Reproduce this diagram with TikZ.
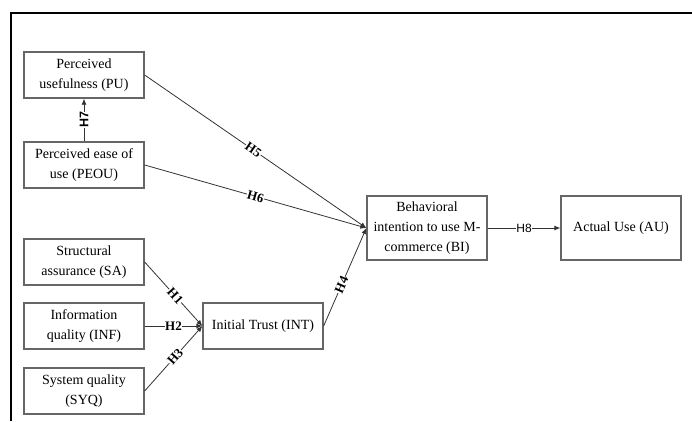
\documentclass[tikz,border=0pt]{standalone}
\usepackage{fontspec}
\setmainfont{Liberation Serif}
\newfontfamily\labsans{Liberation Sans}
\usetikzlibrary{arrows.meta}
\definecolor{boxc}{HTML}{666666}
\definecolor{linec}{HTML}{333333}
\begin{document}
\begin{tikzpicture}[x=1pt,y=-1pt,
  box/.style={draw=boxc,line width=1.3pt,minimum width=120pt,minimum height=46pt,
    align=center,inner sep=1pt,font=\fontsize{14}{20}\selectfont},
  arr/.style={draw=linec,line width=0.8pt,-{Latex[length=6pt,width=5pt]}},
  lab/.style={fill=white,inner sep=0.5pt,font=\fontsize{13}{13}\selectfont\bfseries,sloped}]
\useasboundingbox (0,0) rectangle (692,421);
\draw[line width=2.5pt] (11,421) -- (11,13) -- (692,13);
\node[box] (pu) at (84,75) {Perceived\\usefulness (PU)};
\node[box] (peou) at (84,165) {Perceived ease of\\use (PEOU)};
\node[box] (sa) at (84,262) {Structural\\assurance (SA)};
\node[box] (inf) at (84,326) {Information\\quality (INF)};
\node[box] (syq) at (84,391) {System quality\\(SYQ)};
\node[box] (int) at (263,326) {Initial Trust (INT)};
\node[box,minimum height=64pt] (bi) at (427,228) {Behavioral\\intention to use M-\\commerce (BI)};
\node[box,minimum height=64pt] (au) at (621,228) {Actual Use (AU)};
\draw[arr] (peou.north) -- node[lab,font=\labsans\fontsize{12.5}{12.5}\selectfont\bfseries]{H7} (pu.south);
\draw[arr] (pu.east) -- node[lab,pos=0.49]{H5} (bi.west);
\draw[arr] (peou.east) -- node[lab,pos=0.5]{H6} (bi.west);
\draw[arr] (sa.east) -- node[lab,pos=0.53]{H1} (int.west);
\draw[arr] (inf.east) -- node[lab,pos=0.5]{H2} (int.west);
\draw[arr] (syq.east) -- node[lab,pos=0.53]{H3} (int.west);
\draw[arr] (int.east) -- node[lab,pos=0.42]{H4} (bi.west);
\draw[arr] (bi.east) -- node[lab,font=\labsans\fontsize{12}{12}\selectfont]{H8} (au.west);
\end{tikzpicture}
\end{document}
